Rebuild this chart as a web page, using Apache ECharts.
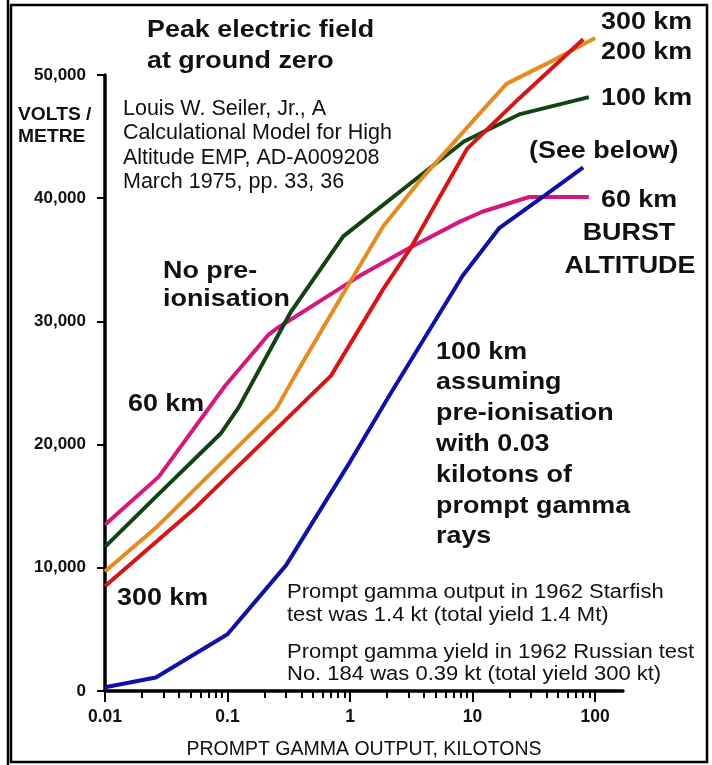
<!DOCTYPE html>
<html>
<head>
<meta charset="utf-8">
<title>Peak electric field at ground zero</title>
<script src="https://cdn.jsdelivr.net/npm/echarts@6.0.0/dist/echarts.min.js"></script>
<style>
  html, body { margin: 0; padding: 0; background: #fff; }
  #chart { width: 712px; height: 765px; }
</style>
</head>
<body>
<div id="chart"></div>
<script>
// [prompt gamma output (kt), peak field (V/m)]
var km60 = [[0.01, 13500], [0.0275, 17400], [0.096, 24800], [0.215, 28900], [0.25, 29400],
  [1.2, 33700], [3.1, 36000], [7.9, 38100], [12, 38900], [29, 40100], [89, 40100]];
var km100 = [[0.01, 11700], [0.0275, 16000], [0.088, 20900], [0.123, 23000], [0.33, 30800],
  [0.88, 36900], [3.6, 41700], [8.5, 44600], [24, 46800], [89, 48200]];
var km200 = [[0.01, 9700], [0.027, 13400], [0.1, 19000], [0.25, 22900], [0.36, 25700],
  [1, 33200], [1.86, 37700], [3.7, 41400], [10.8, 46600], [19, 49300], [40, 50900], [100, 53000]];
var km300 = [[0.01, 8500], [0.055, 14900], [0.36, 22800], [0.7, 25600], [1.86, 32600],
  [3.1, 35900], [9, 44000], [24, 48100], [80, 52900]];
var km100Preionised = [[0.01, 300], [0.026, 1100], [0.1, 4600], [0.3, 10200], [1, 18600],
  [2.1, 24000], [8.3, 33700], [16.6, 37600], [41, 40400], [80, 42500]];

var xTickValues = [0.01, 0.1, 1, 10, 100];
var xTickLabels = ['0.01', '0.1', '1', '10', '100'];

// minor log ticks 2..9 in each decade
var xMinorTicks = [];
for (var d = 0; d < 4; d++) {
  for (var m = 2; m <= 9; m++) {
    xMinorTicks.push(+(m * xTickValues[d]).toPrecision(3));
  }
}

var FONT = '"Liberation Sans", Arial, Helvetica, sans-serif';
var bold = 'bold 24px ' + FONT;

function label(x, y, text, opts) {
  opts = opts || {};
  return {
    type: 'text',
    x: x,
    y: y,
    scaleX: opts.scaleX || 1.12,
    z: 100,
    style: {
      text: text,
      font: opts.font || bold,
      fill: '#111',
      textAlign: opts.align || 'left',
      textVerticalAlign: 'middle'
    }
  };
}

function curve(name, data, color) {
  return {
    name: name,
    type: 'line',
    data: data,
    xAxisIndex: 0,
    symbol: 'none',
    clip: false,
    smooth: false,
    lineStyle: { color: color, width: 4 },
    itemStyle: { color: color }
  };
}

var regular = '21.5px ' + FONT;
var small = '20px ' + FONT;
var middleBlock = ['100 km', 'assuming', 'pre-ionisation', 'with 0.03',
  'kilotons of', 'prompt gamma', 'rays'];

var texts = [
  label(147, 30, 'Peak electric field'),
  label(147, 61, 'at ground zero'),
  label(601, 22, '300 km'),
  label(601, 52, '200 km'),
  label(601, 98, '100 km'),
  label(529, 151, '(See below)'),
  label(601, 200, '60 km'),
  label(629, 233, 'BURST', { align: 'center' }),
  label(630, 266, 'ALTITUDE', { align: 'center' }),
  label(163, 271, 'No pre-'),
  label(163, 299, 'ionisation'),
  label(128, 404, '60 km'),
  label(117, 598, '300 km'),
  label(18, 115, 'VOLTS /', { font: 'bold 17.5px ' + FONT, scaleX: 1.1 }),
  label(18, 137, 'METRE', { font: 'bold 17.5px ' + FONT, scaleX: 1.1 }),
  label(123, 109, 'Louis W. Seiler, Jr., A', { font: regular, scaleX: 1 }),
  label(123, 133, 'Calculational Model for High', { font: regular, scaleX: 1 }),
  label(123, 158, 'Altitude EMP, AD-A009208', { font: regular, scaleX: 1 }),
  label(123, 182, 'March 1975, pp. 33, 36', { font: regular, scaleX: 1 }),
  label(287, 592, 'Prompt gamma output in 1962 Starfish', { font: small, scaleX: 1.1 }),
  label(287, 615, 'test was 1.4 kt (total yield 1.4 Mt)', { font: small, scaleX: 1.1 }),
  label(287, 652, 'Prompt gamma yield in 1962 Russian test', { font: small, scaleX: 1.1 }),
  label(287, 674, 'No. 184 was 0.39 kt (total yield 300 kt)', { font: small, scaleX: 1.1 })
];
middleBlock.forEach(function (t, i) {
  texts.push(label(436, 352 + i * 30.8, t));
});

// frame round the picture
texts.push({
  type: 'rect', z: 100,
  shape: { x: 11, y: 5, width: 696, height: 757 },
  style: { fill: null, stroke: '#000', lineWidth: 2.5 }
});
texts.push({
  type: 'line', z: 100,
  shape: { x1: 8, y1: 0, x2: 8, y2: 765 },
  style: { stroke: '#000', lineWidth: 2.5 }
});

var myChart = echarts.init(document.getElementById('chart'));

myChart.setOption({
  animation: false,
  backgroundColor: '#fff',
  grid: { left: 105, right: 89, top: 75, bottom: 65 },
  xAxis: [
    {
      type: 'log',
      logBase: 10,
      min: 0.01,
      max: 169,
      position: 'bottom',
      axisLine: { lineStyle: { color: '#000', width: 3.5 } },
      axisTick: {
        customValues: xTickValues,
        length: 11,
        lineStyle: { color: '#000', width: 2 }
      },
      axisLabel: {
        customValues: xTickValues,
        margin: 17,
        color: '#111',
        fontFamily: FONT,
        fontWeight: 'bold',
        fontSize: 17.5,
        formatter: function (v) {
          for (var i = 0; i < xTickValues.length; i++) {
            if (Math.abs(Math.log10(v / xTickValues[i])) < 1e-6) return xTickLabels[i];
          }
          return '';
        }
      },
      splitLine: { show: false },
      name: 'PROMPT GAMMA OUTPUT, KILOTONS',
      nameLocation: 'middle',
      nameGap: 49,
      nameTextStyle: { color: '#111', fontFamily: FONT, fontSize: 19.5 }
    },
    {
      type: 'log',
      logBase: 10,
      min: 0.01,
      max: 169,
      position: 'bottom',
      axisLine: { show: false },
      axisTick: {
        customValues: xMinorTicks,
        length: 7,
        lineStyle: { color: '#000', width: 2 }
      },
      axisLabel: { show: false },
      splitLine: { show: false }
    }
  ],
  yAxis: {
    type: 'value',
    min: 0,
    max: 50000,
    interval: 10000,
    axisLine: { show: true, lineStyle: { color: '#000', width: 3.5 } },
    axisTick: { show: true, length: 8, lineStyle: { color: '#000', width: 2 } },
    axisLabel: {
      margin: 19,
      color: '#111',
      fontFamily: FONT,
      fontWeight: 'bold',
      fontSize: 17
    },
    splitLine: { show: false }
  },
  series: [
    curve('60 km', km60, '#d4187c'),
    curve('100 km', km100, '#104512'),
    curve('200 km', km200, '#e48c22'),
    curve('300 km', km300, '#d41616'),
    curve('100 km, pre-ionised', km100Preionised, '#0e10a6')
  ],
  graphic: { elements: texts }
});
</script>
</body>
</html>
